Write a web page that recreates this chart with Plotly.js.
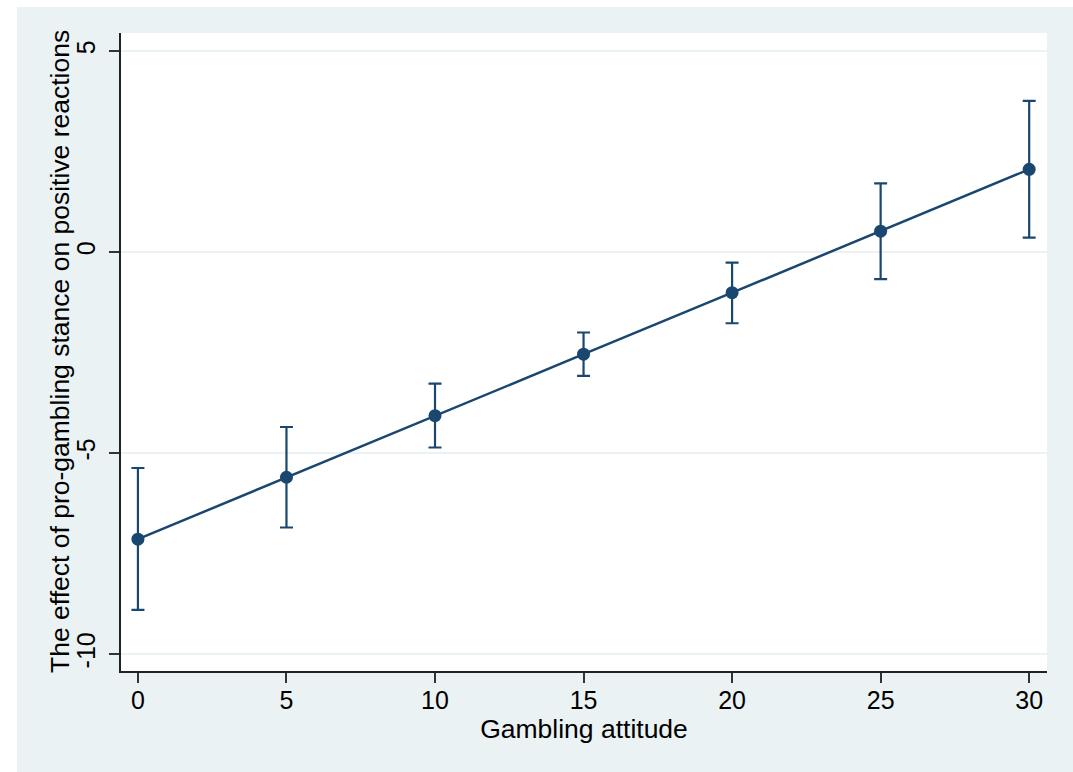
<!DOCTYPE html>
<html>
<head>
<meta charset="utf-8">
<script src="https://cdn.plot.ly/plotly-3.0.1.min.js"></script>
<style>
  html, body { margin: 0; padding: 0; background: #ffffff; width: 1073px; height: 772px; overflow: hidden; }
  #chart { position: absolute; left: 17px; top: 7px; width: 1056px; height: 765px; }
</style>
</head>
<body>
<div id="chart"></div>
<script>
const attitude = [0, 5, 10, 15, 20, 25, 30];
const effect = [-7.14, -5.60, -4.07, -2.54, -1.01, 0.52, 2.06];
const ciUpper = [-5.37, -4.35, -3.27, -2.00, -0.26, 1.71, 3.76];
const ciLower = [-8.90, -6.85, -4.86, -3.08, -1.77, -0.67, 0.36];
const xTicks = [0, 5, 10, 15, 20, 25, 30];
const yTicks = [-10, -5, 0, 5];
const xTitle = "Gambling attitude";
const yTitle = "The effect of pro-gambling stance on positive reactions";

const navy = "#1a476f";
const errPlus = ciUpper.map((u, i) => u - effect[i]);
const errMinus = ciLower.map((l, i) => effect[i] - l);

const trace = {
  x: attitude,
  y: effect,
  type: "scatter",
  mode: "lines+markers",
  line: { color: navy, width: 2.5 },
  marker: { color: navy, size: 13 },
  error_y: {
    type: "data",
    symmetric: false,
    array: errPlus,
    arrayminus: errMinus,
    color: navy,
    thickness: 2.2,
    width: 6.5
  },
  showlegend: false,
  hoverinfo: "x+y"
};

const fontFam = "Liberation Sans, Arial, Helvetica, sans-serif";

const layout = {
  width: 1056,
  height: 765,
  paper_bgcolor: "#eaf2f3",
  plot_bgcolor: "#ffffff",
  margin: { l: 104, r: 26, t: 26, b: 101, pad: 0 },
  font: { family: fontFam, color: "#000000" },
  xaxis: {
    range: [-0.57, 30.6],
    tickvals: xTicks,
    ticktext: xTicks.map(String),
    ticks: "outside",
    ticklen: 10,
    tickwidth: 1.5,
    tickcolor: "#333333",
    ticklabelstandoff: -4,
    showline: true,
    linecolor: "#222222",
    linewidth: 2,
    showgrid: false,
    zeroline: false,
    tickfont: { size: 25, family: fontFam, color: "#000000" },
    title: { text: xTitle, font: { size: 26.5, family: fontFam, color: "#000000" }, standoff: 0 },
    automargin: false
  },
  yaxis: {
    range: [-10.42, 5.45],
    tickvals: yTicks,
    ticktext: yTicks.map(String),
    ticks: "outside",
    ticklen: 10,
    tickwidth: 1.5,
    tickcolor: "#333333",
    tickangle: -90,
    ticklabelstandoff: 4,
    showline: true,
    linecolor: "#222222",
    linewidth: 2,
    showgrid: true,
    gridcolor: "#eaf2f3",
    gridwidth: 2,
    zeroline: false,
    tickfont: { size: 25, family: fontFam, color: "#000000" },
    automargin: false
  },
  annotations: [{
    text: yTitle,
    xref: "paper", yref: "paper",
    x: 0, y: 0.5,
    xanchor: "center", yanchor: "middle",
    xshift: -61,
    textangle: -90,
    showarrow: false,
    font: { size: 26.5, family: fontFam, color: "#000000" }
  }]
};

Plotly.newPlot("chart", [trace], layout, { displayModeBar: false, staticPlot: false });
</script>
</body>
</html>
